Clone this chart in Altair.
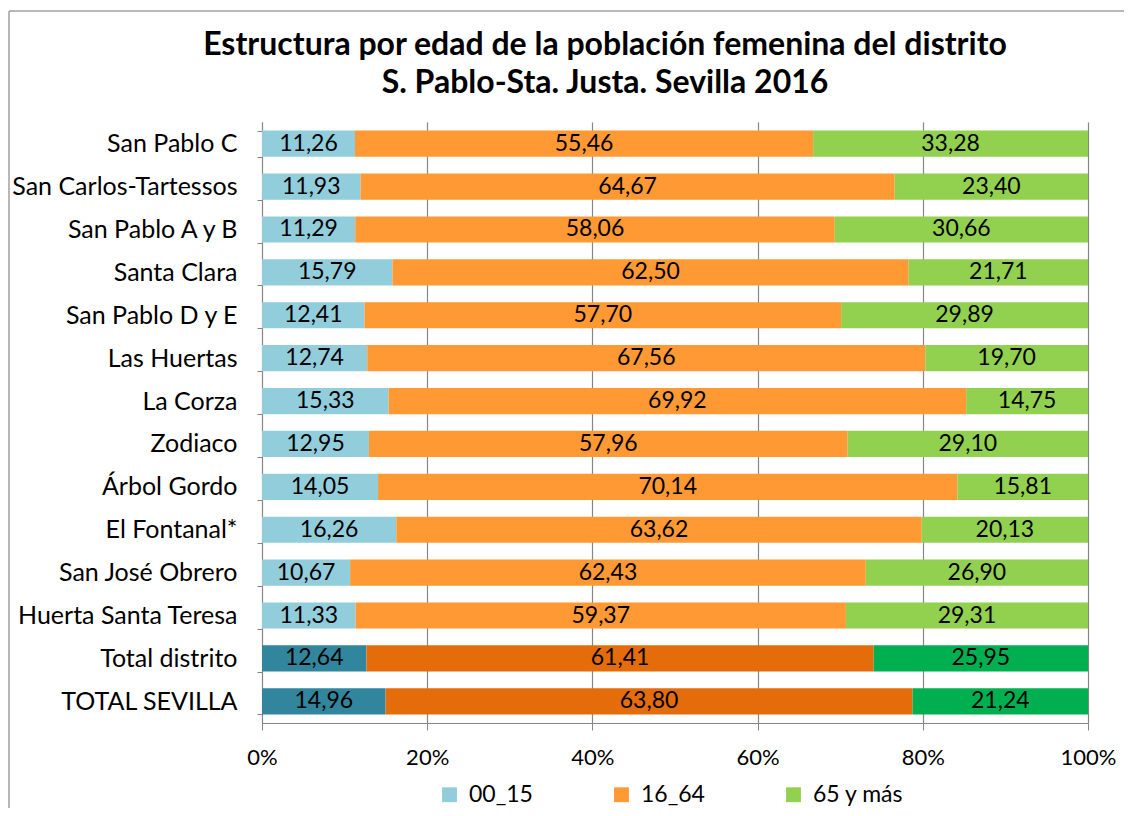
import altair as alt
import pandas as pd

categorias = ["San Pablo C", "San Carlos-Tartessos", "San Pablo A y B", "Santa Clara",
              "San Pablo D y E", "Las Huertas", "La Corza", "Zodiaco", "Árbol Gordo",
              "El Fontanal*", "San José Obrero", "Huerta Santa Teresa", "Total distrito ",
              "TOTAL SEVILLA"]
v00_15 = [11.26, 11.93, 11.29, 15.79, 12.41, 12.74, 15.33, 12.95, 14.05, 16.26, 10.67, 11.33, 12.64, 14.96]
v16_64 = [55.46, 64.67, 58.06, 62.50, 57.70, 67.56, 69.92, 57.96, 70.14, 63.62, 62.43, 59.37, 61.41, 63.80]
v65 = [33.28, 23.40, 30.66, 21.71, 29.89, 19.70, 14.75, 29.10, 15.81, 20.13, 26.90, 29.31, 25.95, 21.24]
grupos = ["00_15", "16_64", "65 y más"]
totales = ["Total distrito ", "TOTAL SEVILLA"]

rows = []
for i, c in enumerate(categorias):
    for j, (g, vals) in enumerate(zip(grupos, [v00_15, v16_64, v65])):
        v = vals[i]
        key = ("T" + g) if c in totales else g
        rows.append({"cat": c, "grupo": g, "valor": v, "orden": j,
                     "label": f"{v:.2f}".replace(".", ","), "ckey": key})
df = pd.DataFrame(rows)

FONT = "Lato"
color_domain = ["00_15", "16_64", "65 y más", "T00_15", "T16_64", "T65 y más"]
color_range = ["#92CDDC", "#FF9933", "#92D050", "#31859C", "#E46C0A", "#00B050"]

base = alt.Chart(df).transform_stack(
    stack="valor", groupby=["cat"], as_=["v0", "v1"],
    sort=[alt.SortField("orden", order="ascending")], offset="normalize"
).transform_calculate(mid="(datum.v0 + datum.v1) / 2")

yenc = alt.Y("cat:N", sort=categorias, title=None,
             scale=alt.Scale(paddingInner=0.39, paddingOuter=0.2),
             axis=alt.Axis(labelFontSize=25, labelColor="black", labelFont=FONT,
                           tickBand="extent", tickSize=5, tickColor="#868686",
                           domainColor="#868686", labelPadding=20, labelLimit=400))

bars = base.mark_bar().encode(
    y=yenc,
    x=alt.X("v0:Q", scale=alt.Scale(domain=[0, 1], nice=False), title=None,
            axis=alt.Axis(format="%", values=[0, 0.2, 0.4, 0.6, 0.8, 1.0], grid=True,
                          gridColor="#868686", gridWidth=1.2, tickSize=7,
                          tickColor="#868686", domainColor="#868686",
                          labelFontSize=22, labelColor="black", labelFont=FONT,
                          labelFlush=False, labelPadding=17)),
    x2="v1:Q",
    color=alt.Color("ckey:N", scale=alt.Scale(domain=color_domain, range=color_range),
                    legend=alt.Legend(values=grupos, title=None, orient="none",
                                      direction="horizontal", legendX=176, legendY=661,
                                      symbolType="square", symbolSize=220,
                                      symbolStrokeWidth=0, labelFontSize=23,
                                      labelFont=FONT, labelColor="black",
                                      columnPadding=77, labelOffset=8)),
)

texts = base.mark_text(fontSize=23, font=FONT, color="black").encode(
    y=alt.Y("cat:N", sort=categorias),
    x=alt.X("mid:Q"),
    text="label:N",
)

frame_src = alt.Chart(alt.Data(values=[{"a": 1}]))
frame_top = frame_src.mark_rule(stroke="#A0A0A0", strokeWidth=1.5).encode(
    x=alt.value(-253), x2=alt.value(880), y=alt.value(-111))
frame_left = frame_src.mark_rule(stroke="#A0A0A0", strokeWidth=1.5).encode(
    x=alt.value(-253), y=alt.value(-111), y2=alt.value(720))

chart = alt.layer(frame_top, frame_left, bars, texts).properties(
    width=826, height=601,
    autosize=alt.AutoSizeParams(type="none"),
    padding={"left": 254, "top": 114, "right": 36, "bottom": 85},
    title=alt.TitleParams(
        text=["Estructura por edad de la población femenina del distrito",
              "S. Pablo-Sta. Justa. Sevilla 2016"],
        fontSize=32, font=FONT, fontWeight="bold", color="black",
        anchor="middle", frame="group", dx=-70, offset=-90, lineHeight=38),
).configure_view(stroke=None)

chart.save("out.html", embed_options={"renderer": "svg", "actions": False})
